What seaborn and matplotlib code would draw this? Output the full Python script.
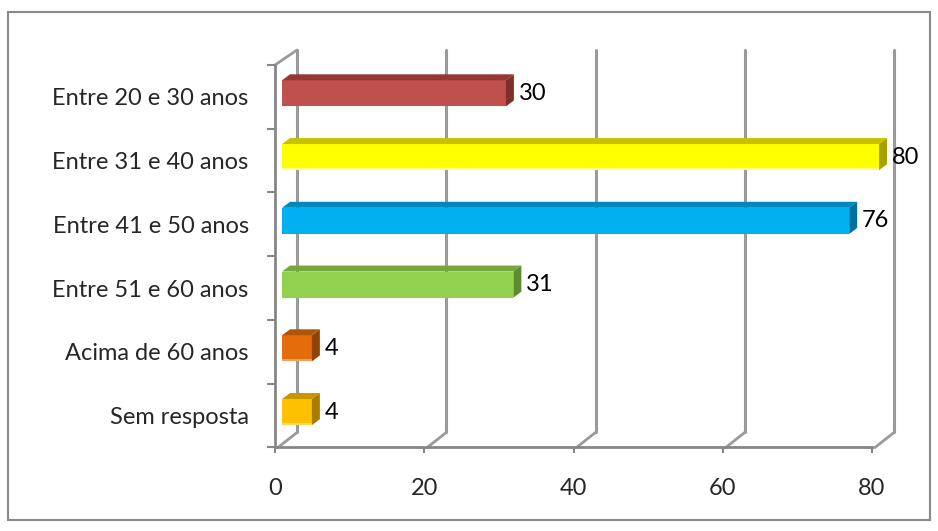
import matplotlib
matplotlib.use('Agg')
import matplotlib.pyplot as plt
import matplotlib.transforms as mtransforms
from matplotlib.patches import Polygon, Rectangle
import seaborn as sns

# Data
categories = ['Entre 20 e 30 anos', 'Entre 31 e 40 anos', 'Entre 41 e 50 anos',
              'Entre 51 e 60 anos', 'Acima de 60 anos', 'Sem resposta']
values = [30, 80, 76, 31, 4, 4]
x_ticks = [0, 20, 40, 60, 80]

front_colors = ['#C0504D', '#FFFF00', '#00B0F0', '#92D050', '#E46C0A', '#FFC000']
top_colors = ['#953735', '#C8C000', '#0088BB', '#76A83E', '#B05508', '#C89600']
side_colors = ['#7E2E2C', '#A8A200', '#00709C', '#5E8A30', '#8E4406', '#A67D00']
base_colors = ['#C0504D', '#FFFF88', '#00B0F0', '#92D050', '#F0A060', '#FFD860']

sns.set_style('white')
plt.rcParams['font.family'] = ['Lato', 'DejaVu Sans']

fig = plt.figure(figsize=(9.38, 5.31), dpi=100)
ax = fig.add_axes([0.2932, 0.1573, 0.6663, 0.7203])

sns.barplot(x=values, y=categories, hue=categories, palette=front_colors,
            legend=False, width=0.41, saturation=1, ax=ax, edgecolor='none')

xmax = 83.75
ax.set_xlim(0, xmax)
ax.set_ylim(len(categories) - 0.5, -0.5)

# pixel sizes of one data unit
ppx = 625 / xmax
ppy = 382.5 / len(categories)

# front face shift and bar depth (pixels)
shift = mtransforms.offset_copy(ax.transData, fig=fig, x=7, y=3.5, units='dots')
ddx, ddy = 8 / ppx, 6 / ppy
strip = 2.5 / ppy

for i, p in enumerate(ax.patches[:len(values)]):
    p.set_transform(shift)
    x0, y0 = p.get_x(), p.get_y()
    w, h = p.get_width(), p.get_height()
    top = Polygon([(x0, y0), (x0 + w, y0), (x0 + w + ddx, y0 - ddy), (x0 + ddx, y0 - ddy)],
                  closed=True, facecolor=top_colors[i], edgecolor='none', transform=shift)
    side = Polygon([(x0 + w, y0), (x0 + w + ddx, y0 - ddy), (x0 + w + ddx, y0 + h - ddy), (x0 + w, y0 + h)],
                   closed=True, facecolor=side_colors[i], edgecolor='none', transform=shift)
    # lighter lower edge of the front face
    base = Rectangle((x0, y0 + h - strip), w, strip, facecolor=base_colors[i],
                     edgecolor='none', transform=shift)
    ax.add_patch(top)
    ax.add_patch(side)
    ax.add_patch(base)

# value labels
label_tr = mtransforms.offset_copy(ax.transData, fig=fig, x=7 + 8 + 5, y=3.5, units='dots')
for i, v in enumerate(values):
    ax.text(v, i, str(v), transform=label_tr, ha='left', va='center', fontsize=17, color='black')

# back wall gridlines and floor diagonals
grid_col = '#9A9A9A'
back = mtransforms.offset_copy(ax.transData, fig=fig, x=22, y=15, units='dots')
for t in x_ticks:
    ax.plot([t, t], [len(categories) - 0.5, -0.5], color=grid_col, lw=2.2,
            transform=back, clip_on=False, zorder=0.5)
    ax.plot([t + 0.4, t + 22 / ppx], [len(categories) - 0.5, len(categories) - 0.5 - 15 / ppy],
            color=grid_col, lw=2, clip_on=False, zorder=0.5)
ax.plot([0, 22 / ppx], [-0.5, -0.5 - 15 / ppy], color=grid_col, lw=2, clip_on=False, zorder=0.5)

# axes lines and ticks
for s in ['top', 'right']:
    ax.spines[s].set_visible(False)
for s in ['left', 'bottom']:
    ax.spines[s].set_color('#868686')
    ax.spines[s].set_linewidth(2)
ax.spines['bottom'].set_bounds(0, x_ticks[-1])

ax.set_xticks(x_ticks)
ax.set_xticklabels([str(t) for t in x_ticks])
ax.set_yticks([i - 0.5 for i in range(len(categories) + 1)], minor=True)
ax.tick_params(axis='y', which='minor', length=6, width=1.5, color='#868686', left=True)
ax.tick_params(axis='y', which='major', length=0, pad=19, labelsize=17)
ax.tick_params(axis='x', which='major', length=4, width=1.5, color='#868686', bottom=True,
               pad=18, labelsize=17)
ax.set_xlabel('')
ax.set_ylabel('')
ax.grid(False)

# outer chart border
fig.add_artist(Rectangle((8 / 938, 1 - 520 / 531), 922 / 938, 508 / 531, transform=fig.transFigure,
                         fill=False, edgecolor='#898989', lw=1.5))

plt.savefig('out.png', dpi=100)
